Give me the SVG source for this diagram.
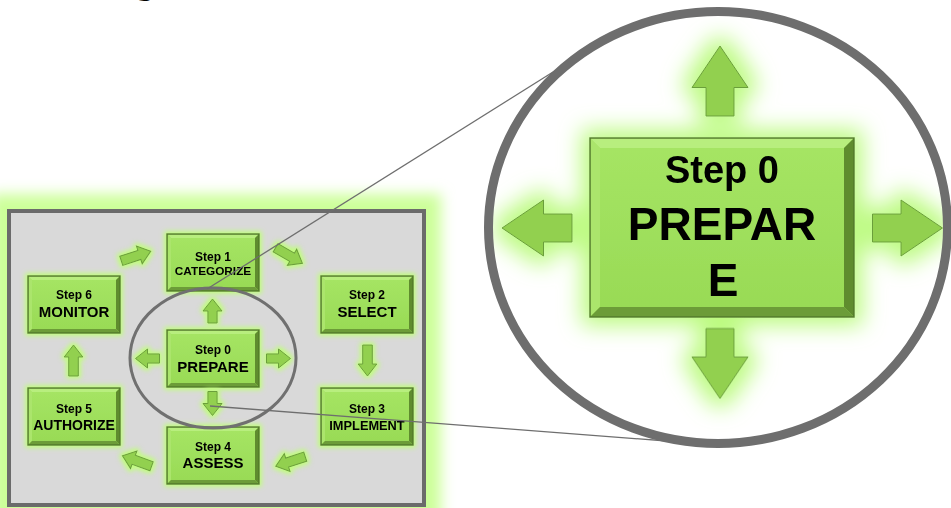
<svg xmlns="http://www.w3.org/2000/svg" xmlns:xlink="http://www.w3.org/1999/xlink" width="951" height="508" viewBox="0 0 951 508">
  <style>
    .face{fill:url(#faceFill)}
    .bv-top{fill:#b8ee7e}
    .bv-left{fill:#abe56c}
    .bv-right{fill:#5e8c2e}
    .bv-bot{fill:#6c9c39}
    .edge{fill:none;stroke:#537a2b;stroke-width:1.5}
    .arrow{fill:#92d050;stroke:#6b9e3b;stroke-width:1}
    .lbl{font-family:"Liberation Sans",Arial,sans-serif;font-weight:bold;fill:#000;text-anchor:middle}
    .callout{stroke:#6e6e6e;stroke-width:1.3;fill:none}
  </style>
  <defs>
    <linearGradient id="faceFill" x1="0" y1="0" x2="0" y2="1">
      <stop offset="0" stop-color="#a6e564"/>
      <stop offset="1" stop-color="#98da55"/>
    </linearGradient>
    <filter id="panelGlow" x="-20%" y="-20%" width="140%" height="140%">
      <feGaussianBlur stdDeviation="7"/>
    </filter>
    <filter id="haloSm" x="-30%" y="-30%" width="160%" height="160%">
      <feMorphology in="SourceAlpha" operator="dilate" radius="2"/>
      <feGaussianBlur stdDeviation="2.5" result="b"/>
      <feFlood flood-color="#bfff78"/>
      <feComposite in2="b" operator="in" result="halo"/>
      <feMerge><feMergeNode in="halo"/><feMergeNode in="SourceGraphic"/></feMerge>
    </filter>
    <filter id="haloLg" x="-30%" y="-30%" width="160%" height="160%">
      <feMorphology in="SourceAlpha" operator="dilate" radius="8"/>
      <feGaussianBlur stdDeviation="11" result="b"/>
      <feFlood flood-color="#bdfb82"/>
      <feComposite in2="b" operator="in" result="halo"/>
      <feMerge><feMergeNode in="halo"/><feMergeNode in="SourceGraphic"/></feMerge>
    </filter>
    <clipPath id="lensClip">
      <ellipse cx="718" cy="227.5" rx="229" ry="215.5"/>
    </clipPath>
    <!-- beveled step box, small -->
    <g id="boxSm">
      <rect width="92" height="57" class="face"/>
      <polygon class="bv-top" points="0,0 92,0 88,4 4,4"/>
      <polygon class="bv-left" points="0,0 4,4 4,53 0,57"/>
      <polygon class="bv-right" points="92,0 92,57 88,53 88,4"/>
      <polygon class="bv-bot" points="0,57 92,57 88,53 4,53"/>
      <rect width="92" height="57" class="edge"/>
    </g>
    <!-- block arrows, pointing right, centred on the origin -->
    <path id="arrLong" class="arrow" d="M-15.5,-4.8 H3.5 V-9.3 L15.5,0 L3.5,9.3 V4.8 H-15.5 Z"/>
    <path id="arrShort" class="arrow" d="M-12,-4.6 H0 V-9.5 L12,0 L0,9.5 V4.6 H-12 Z"/>
    <path id="arrBig" class="arrow" d="M-35,-14 H-6.5 V-28 L35,0 L-6.5,28 V14 H-35 Z"/>
  </defs>

  <rect width="951" height="508" fill="#fff"/>

  <!-- clipped heading descender -->
  <text x="145" y="-7.2" class="lbl" font-size="40">g</text>

  <!-- left panel -->
  <g id="panel">
    <rect x="-10" y="194" width="451" height="330" fill="#ccff99" filter="url(#panelGlow)"/>
    <rect x="9" y="211" width="415" height="294" fill="#d9d9d9" stroke="#6b6b6b" stroke-width="4"/>
  </g>

  <!-- steps -->
  <g id="step1" filter="url(#haloSm)" transform="translate(167,234)">
    <use href="#boxSm"/>
    <text class="lbl" x="46" y="27" font-size="12">Step 1</text>
    <text class="lbl" x="46" y="41" font-size="11.8">CATEGORIZE</text>
  </g>
  <g id="step2" filter="url(#haloSm)" transform="translate(321,276)">
    <use href="#boxSm"/>
    <text class="lbl" x="46" y="23" font-size="12">Step 2</text>
    <text class="lbl" x="46" y="41" font-size="15">SELECT</text>
  </g>
  <g id="step3" filter="url(#haloSm)" transform="translate(321,388)">
    <use href="#boxSm"/>
    <text class="lbl" x="46" y="25" font-size="12">Step 3</text>
    <text class="lbl" x="46" y="42" font-size="12.8">IMPLEMENT</text>
  </g>
  <g id="step4" filter="url(#haloSm)" transform="translate(167,427)">
    <use href="#boxSm"/>
    <text class="lbl" x="46" y="24" font-size="12">Step 4</text>
    <text class="lbl" x="46" y="41" font-size="15">ASSESS</text>
  </g>
  <g id="step5" filter="url(#haloSm)" transform="translate(28,388)">
    <use href="#boxSm"/>
    <text class="lbl" x="46" y="25" font-size="12">Step 5</text>
    <text class="lbl" x="46" y="42" font-size="14">AUTHORIZE</text>
  </g>
  <g id="step6" filter="url(#haloSm)" transform="translate(28,276)">
    <use href="#boxSm"/>
    <text class="lbl" x="46" y="23" font-size="12">Step 6</text>
    <text class="lbl" x="46" y="41" font-size="15">MONITOR</text>
  </g>
  <g id="step0" filter="url(#haloSm)" transform="translate(167,330)">
    <use href="#boxSm"/>
    <text class="lbl" x="46" y="24" font-size="12">Step 0</text>
    <text class="lbl" x="46" y="42" font-size="15">PREPARE</text>
  </g>

  <!-- cycle and prepare arrows -->
  <g id="connectors" filter="url(#haloSm)">
    <use href="#arrLong" transform="translate(136,256) rotate(-18)"/>
    <use href="#arrLong" transform="translate(289,255.5) rotate(30)"/>
    <use href="#arrLong" transform="translate(367.5,360.5) rotate(90)"/>
    <use href="#arrLong" transform="translate(290.5,461.5) rotate(162)"/>
    <use href="#arrLong" transform="translate(137,461) rotate(200)"/>
    <use href="#arrLong" transform="translate(73.5,360.5) rotate(-90)"/>
    <use href="#arrShort" transform="translate(212.5,311) rotate(-90)"/>
    <use href="#arrShort" transform="translate(212.5,403.5) rotate(90)"/>
    <use href="#arrShort" transform="translate(147.5,358.5) rotate(180)"/>
    <use href="#arrShort" transform="translate(278.5,358.5)"/>
  </g>

  <!-- magnified region -->
  <g id="zoom-callout">
    <ellipse cx="213" cy="358" rx="83" ry="70" fill="none" stroke="#707070" stroke-width="3"/>
    <line class="callout" x1="207" y1="289" x2="553" y2="72"/>
    <line class="callout" x1="210" y1="406" x2="667" y2="441"/>
  </g>

  <g id="lens">
    <ellipse cx="718" cy="227.5" rx="229.5" ry="216" fill="#fff"/>
    <g clip-path="url(#lensClip)">
      <g id="step0-large" filter="url(#haloLg)">
        <use href="#arrBig" transform="translate(720,81) rotate(-90)"/>
        <use href="#arrBig" transform="translate(720,363.5) rotate(90)"/>
        <use href="#arrBig" transform="translate(537,228) rotate(180)"/>
        <use href="#arrBig" transform="translate(907.5,228)"/>
        <g transform="translate(590,138)">
          <rect width="264" height="179" class="face"/>
          <polygon class="bv-top" points="0,0 264,0 254,10 10,10"/>
          <polygon class="bv-left" points="0,0 10,10 10,169 0,179"/>
          <polygon class="bv-right" points="264,0 264,179 254,169 254,10"/>
          <polygon class="bv-bot" points="0,179 264,179 254,169 10,169"/>
          <rect width="264" height="179" class="edge" stroke-width="2"/>
          <text class="lbl" x="132" y="45" font-size="38">Step 0</text>
          <text class="lbl" x="132" y="102" font-size="46">PREPAR</text>
          <text class="lbl" x="133" y="158" font-size="46">E</text>
        </g>
      </g>
    </g>
    <ellipse cx="718" cy="227.5" rx="229.5" ry="216" fill="none" stroke="#6e6e6e" stroke-width="9"/>
  </g>
</svg>
